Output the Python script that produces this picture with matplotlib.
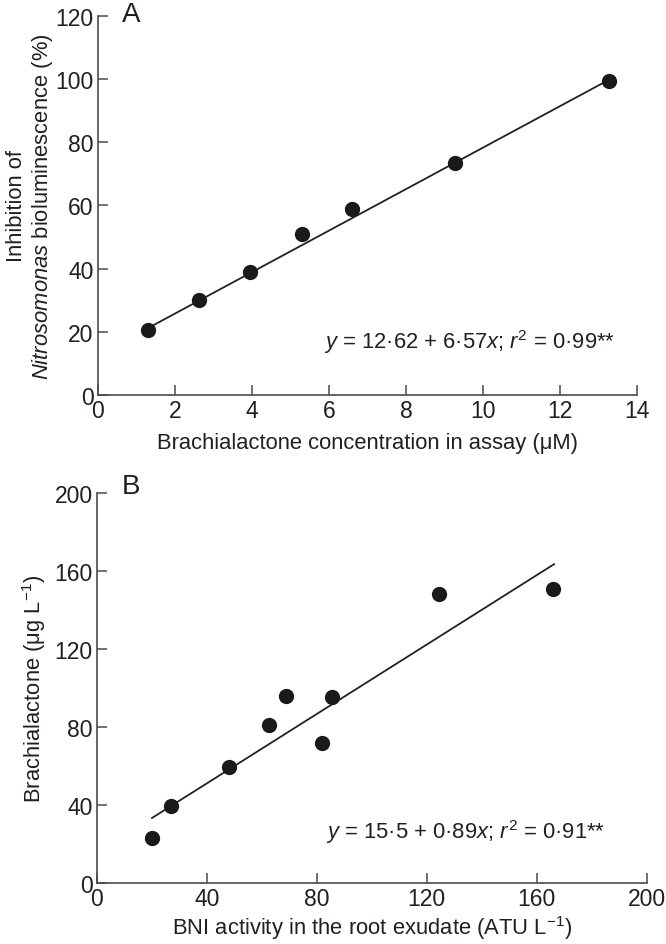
import numpy as np
import matplotlib
matplotlib.use('Agg')
import matplotlib.pyplot as plt

plt.rcParams['font.family'] = ['Liberation Sans', 'DejaVu Sans']
plt.rcParams['mathtext.fontset'] = 'custom'
plt.rcParams['mathtext.rm'] = 'Liberation Sans'
plt.rcParams['mathtext.it'] = 'Liberation Sans:italic'
plt.rcParams['mathtext.default'] = 'regular'

# panel A data
conc = [1.3, 2.63, 3.96, 5.29, 6.6, 9.27, 13.26]
inhib = [20.5, 30, 39, 51, 59, 73.3, 99.4]
a_icpt, a_slope = 12.62, 6.57
a_xrange = [1.3, 13.3]

# panel B data
bni = [20, 27, 48, 62.7, 68.7, 81.7, 85.6, 124.4, 166]
brach = [23, 39.5, 59.5, 81, 96, 72, 95.5, 148, 151]
b_icpt, b_slope = 15.5, 0.89
b_xrange = [20, 166.3]

txt = '#231f20'
spine = '#4a4a4a'
tick_fs = 16.5
lab_fs = 15.8

fig = plt.figure(figsize=(6.66, 9.45), dpi=100)
axA = fig.add_axes([0.147, 0.581, 0.8095, 0.401])
axB = fig.add_axes([0.1456, 0.0646, 0.8254, 0.4126])

def style(ax):
    for s in ['top', 'right']:
        ax.spines[s].set_visible(False)
    for s in ['left', 'bottom']:
        ax.spines[s].set_color(spine)
        ax.spines[s].set_linewidth(1.2)
    ax.tick_params(direction='in', length=7, width=1.1, color=spine,
                   labelsize=tick_fs, labelcolor=txt, pad=3)

# A
xa = np.array(a_xrange)
axA.plot(xa, a_icpt + a_slope * xa, color='#222222', lw=1.3)
axA.plot(conc, inhib, 'o', color='#1a1a1a', ms=11, mec='none')
axA.set_xlim(0, 14)
axA.set_ylim(0, 120)
axA.set_xticks(range(0, 15, 2))
axA.set_yticks(range(0, 121, 20))
style(axA)
axA.set_xlabel('Brachialactone concentration in assay (μM)', fontsize=lab_fs, color=txt, labelpad=7)
axA.set_ylabel('Inhibition of\n$\\mathit{Nitrosomonas}$ bioluminescence (%)', fontsize=lab_fs,
               color=txt, linespacing=1.15)
axA.yaxis.set_label_coords(-0.08, 0.5)
axA.text(13.43, 17, '$\\mathit{y}$ = 12·62 + 6·57$\\mathit{x}$; $\\mathit{r}^2$ = 0·99**',
         ha='right', va='center', fontsize=lab_fs, color=txt)
axA.text(0.045, 1.005, 'A', transform=axA.transAxes, fontsize=20, color=txt, va='center')

# B
xb = np.array(b_xrange)
axB.plot(xb, b_icpt + b_slope * xb, color='#222222', lw=1.3)
axB.plot(bni, brach, 'o', color='#1a1a1a', ms=11, mec='none')
axB.set_xlim(0, 200)
axB.set_ylim(0, 200)
axB.set_xticks(range(0, 201, 40))
axB.set_yticks(range(0, 201, 40))
style(axB)
axB.set_xlabel('BNI activity in the root exudate (ATU L$^{-1}$)', fontsize=lab_fs, color=txt, labelpad=2)
axB.set_ylabel('Brachialactone (μg L$^{-1}$)', fontsize=lab_fs, color=txt, labelpad=5)
axB.text(185, 26.7, '$\\mathit{y}$ = 15·5 + 0·89$\\mathit{x}$; $\\mathit{r}^2$ = 0·91**',
         ha='right', va='center', fontsize=lab_fs, color=txt)
axB.text(0.045, 1.017, 'B', transform=axB.transAxes, fontsize=20, color=txt, va='center')

fig.savefig('out.png', dpi=100)
